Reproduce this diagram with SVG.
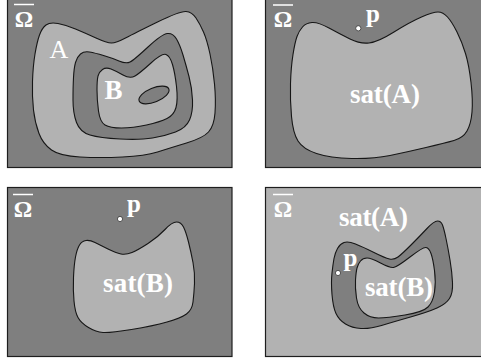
<svg xmlns="http://www.w3.org/2000/svg" width="481" height="364" viewBox="0 0 481 364">
<style>
.bg{fill:#ffffff}
.frame{stroke:#1e1e1e;stroke-width:1.2}
.dark{fill:#7f7f7f}
.light{fill:#b2b2b2}
.edge{stroke:#161616;stroke-width:1.1;stroke-linejoin:round}
.lbl{font-family:"Liberation Serif","Times New Roman",serif;fill:#ffffff;font-weight:bold}
.thin{font-weight:normal}
.bar{stroke:#ffffff;stroke-width:1.5}
.pt{fill:#ffffff;stroke:#333333;stroke-width:0.8}
.om{font-size:23px}
.sat{font-size:27px}
.p{font-size:25px}
</style>
<rect class="bg" x="0" y="0" width="481" height="364"/>

<g id="panel-omega-A-B">
<rect class="frame dark" x="7.5" y="-1.5" width="224.5" height="169"/>
<path class="light edge" d="M39.5,35 Q42,28 46,25 Q50,22 58,23.5 Q66,25 75.5,29 Q85,33 96,38 Q107,43 111.5,43 Q116,43 125.5,38 Q135,33 157.5,22 Q180,11 186,11.5 Q192,12 196,18 Q200,24 203.5,32 Q207,40 210,54 Q213,68 214.5,84 Q216,100 215,113 Q214,126 208.5,132 Q203,138 186.5,143 Q170,148 157.5,152 Q145,156 122.5,157 Q100,158 80,157 Q60,156 51.5,150 Q43,144 39,133.5 Q35,123 33.5,110 Q32,97 32.5,81.5 Q33,66 35,54 Q37,42 39.5,35 Z"/>
<path class="dark edge" d="M75.5,62.5 Q77,57 80.5,54 Q84,51 89.5,52 Q95,53 103.5,55.5 Q112,58 119,61 Q126,64 130,62 Q134,60 148,47 Q162,34 167.5,33.5 Q173,33 176.5,39 Q180,45 183,55 Q186,65 189,76.5 Q192,88 192.5,100 Q193,112 189.5,120 Q186,128 175.5,132 Q165,136 152.5,138 Q140,140 120,139 Q100,138 90,135 Q80,132 76.5,122.5 Q73,113 73,100 Q73,87 73.5,77.5 Q74,68 75.5,62.5 Z"/>
<path class="light edge" d="M98,76 Q99,72 102.5,69.5 Q106,67 111,69 Q116,71 123,75 Q130,79 135,76 Q140,73 151,63 Q162,53 166,54.5 Q170,56 172.5,64.5 Q175,73 176.5,86.5 Q178,100 176,107.5 Q174,115 167,118.5 Q160,122 146.5,125 Q133,128 121.5,128 Q110,128 105,125 Q100,122 98.5,111 Q97,100 97,90 Q97,80 98,76 Z"/>
<ellipse class="dark edge" cx="154" cy="95" rx="16" ry="7" transform="rotate(-22 154 95)"/>
<line class="bar" x1="14" y1="4.5" x2="34" y2="4.5"/>
<text class="lbl om" x="24" y="27" text-anchor="middle">Ω</text>
<text class="lbl thin" x="59" y="58" font-size="26" text-anchor="middle">A</text>
<text class="lbl" x="113.5" y="99" font-size="27" text-anchor="middle">B</text>
</g>

<g id="panel-satA">
<rect class="frame dark" x="265.5" y="-1.5" width="220" height="169"/>
<path class="light edge" d="M297,36.5 Q299,31 302.5,27 Q306,23 312,22.5 Q318,22 329,28 Q340,34 350,39 Q360,44 369,43 Q378,42 394,32 Q410,22 421.5,17 Q433,12 438,12 Q443,12 447.5,17 Q452,22 457,32 Q462,42 465.5,53.5 Q469,65 471,82.5 Q473,100 472,112 Q471,124 467,131 Q463,138 454,140.5 Q445,143 426,147.5 Q407,152 390,155.5 Q373,159 351.5,158.5 Q330,158 316.5,153.5 Q303,149 298,141 Q293,133 291.5,116.5 Q290,100 290.5,83.5 Q291,67 293,54.5 Q295,42 297,36.5 Z"/>
<line class="bar" x1="273" y1="5" x2="293" y2="5"/>
<text class="lbl om" x="283" y="27" text-anchor="middle">Ω</text>
<circle class="pt" cx="358.3" cy="28.3" r="2.6"/>
<text class="lbl p" x="366" y="22">p</text>
<text class="lbl sat" x="385" y="103" text-anchor="middle" textLength="70">sat(A)</text>
</g>

<g id="panel-satB">
<rect class="frame dark" x="7.5" y="187.5" width="224.5" height="169"/>
<path class="light edge" d="M75.5,257 Q77,249 79.5,245 Q82,241 86,240.5 Q90,240 95,242.5 Q100,245 108,249 Q116,253 121,254 Q126,255 132,252.5 Q138,250 148,243.5 Q158,237 165,229.5 Q172,222 176.5,222 Q181,222 183.5,227 Q186,232 188.5,242 Q191,252 193,262.5 Q195,273 194.5,283.5 Q194,294 193,302 Q192,310 186.5,314 Q181,318 167,322 Q153,326 131.5,329.5 Q110,333 103,332.5 Q96,332 88.5,327.5 Q81,323 78,317.5 Q75,312 74,301 Q73,290 73.5,277.5 Q74,265 75.5,257 Z"/>
<line class="bar" x1="13" y1="194.5" x2="33" y2="194.5"/>
<text class="lbl om" x="23" y="216.5" text-anchor="middle">Ω</text>
<circle class="pt" cx="120" cy="219" r="2.6"/>
<text class="lbl p" x="127" y="212">p</text>
<text class="lbl sat" x="138" y="292" text-anchor="middle" textLength="70">sat(B)</text>
</g>

<g id="panel-satA-satB">
<rect class="frame light" x="265.5" y="187.5" width="220" height="169"/>
<path class="dark edge" d="M334,258.5 Q335,253 337.5,248.5 Q340,244 344,242.5 Q348,241 355.5,244 Q363,247 374,252.5 Q385,258 389.5,259 Q394,260 398,257 Q402,254 411,245 Q420,236 427,228.5 Q434,221 437.5,221 Q441,221 442.5,225 Q444,229 446,238.5 Q448,248 450,260 Q452,272 452.5,282.5 Q453,293 449.5,298.5 Q446,304 437,308 Q428,312 410.5,317 Q393,322 381.5,325.5 Q370,329 361,328.5 Q352,328 345.5,324 Q339,320 336,313.5 Q333,307 332,294.5 Q331,282 332,273 Q333,264 334,258.5 Z"/>
<path class="light edge" d="M357,268 Q358,264 360.5,261 Q363,258 367,258 Q371,258 380.5,263 Q390,268 393.5,267.5 Q397,267 410,257 Q423,247 426,247.5 Q429,248 431,253.5 Q433,259 434.5,270.5 Q436,282 434.5,292 Q433,302 428,307 Q423,312 405,315 Q387,318 378.5,318 Q370,318 364,313 Q358,308 356.5,298 Q355,288 355.5,280 Q356,272 357,268 Z"/>
<line class="bar" x1="273" y1="194.5" x2="293" y2="194.5"/>
<text class="lbl om" x="283" y="216.5" text-anchor="middle">Ω</text>
<text class="lbl sat" x="373.5" y="226" text-anchor="middle" textLength="69">sat(A)</text>
<circle class="pt" cx="338" cy="273" r="2.6"/>
<text class="lbl p" x="343.5" y="266">p</text>
<text class="lbl sat" x="399" y="296" text-anchor="middle" textLength="68">sat(B)</text>
</g>

<g id="connectors"/>
</svg>
